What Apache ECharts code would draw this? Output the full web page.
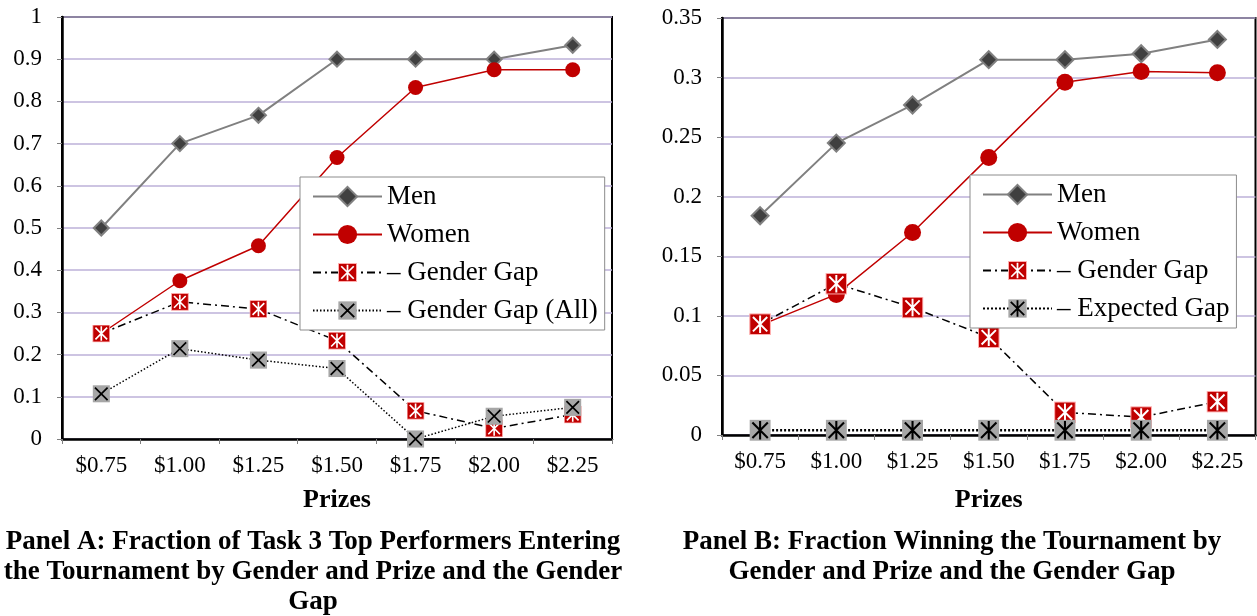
<!DOCTYPE html>
<html>
<head>
<meta charset="utf-8">
<script src="https://cdn.jsdelivr.net/npm/echarts@6/dist/echarts.min.js"></script>
<style>
html,body{margin:0;padding:0;background:#fff;}
#main{width:1257px;height:616px;}
</style>
</head>
<body>
<div id="main"></div>
<script>
// prize levels (x categories)
var prizes = ['$0.75','$1.00','$1.25','$1.50','$1.75','$2.00','$2.25'];
// Panel A: fraction of top performers entering
var menA = [0.5, 0.7, 0.767, 0.9, 0.9, 0.9, 0.933];
var womenA = [0.25, 0.375, 0.458, 0.667, 0.833, 0.875, 0.875];
var gapA = [0.25, 0.325, 0.308, 0.233, 0.067, 0.025, 0.058];
var gapAllA = [0.107, 0.214, 0.187, 0.167, 0.0, 0.054, 0.075];
// Panel B: fraction winning
var menB = [0.184, 0.245, 0.277, 0.315, 0.315, 0.320, 0.332];
var womenB = [0.092, 0.118, 0.170, 0.233, 0.296, 0.305, 0.304];
var gapB = [0.093, 0.127, 0.107, 0.082, 0.019, 0.015, 0.028];
var expGapB = [0.004, 0.004, 0.004, 0.004, 0.004, 0.004, 0.004];

var serif = '"Liberation Serif","Times New Roman",serif';

function svgSym(s){
    return 'image://data:image/svg+xml;charset=utf-8,' + encodeURIComponent(s);
}
// red square with white asterisk
var redStar = svgSym("<svg xmlns='http://www.w3.org/2000/svg' width='40' height='40' viewBox='0 0 20 20'>" +
    "<rect x='0.6' y='0.6' width='18.8' height='18.8' fill='#c00000' stroke='#ffb0b0' stroke-width='1'/>" +
    "<path d='M3.5 3.5L16.5 16.5M16.5 3.5L3.5 16.5M10 2V18' stroke='#ffffff' stroke-width='1.8' fill='none'/></svg>");
// gray square with black X
var grayX = svgSym("<svg xmlns='http://www.w3.org/2000/svg' width='40' height='40' viewBox='0 0 20 20'>" +
    "<rect x='0.5' y='0.5' width='19' height='19' fill='#a6a6a6'/>" +
    "<path d='M3 3L17 17M17 3L3 17' stroke='#000000' stroke-width='1.9' fill='none'/></svg>");
// gray square with black asterisk
var grayStar = svgSym("<svg xmlns='http://www.w3.org/2000/svg' width='40' height='40' viewBox='0 0 20 20'>" +
    "<rect x='0.5' y='0.5' width='19' height='19' fill='#a6a6a6'/>" +
    "<path d='M3 3L17 17M17 3L3 17M10 1.5V18.5' stroke='#000000' stroke-width='1.9' fill='none'/></svg>");

function xAx(idx, gap){
    return {
        type:'category', gridIndex:idx, data:prizes, boundaryGap:true,
        axisLine:{lineStyle:{color:'#000',width:2.5}},
        axisTick:{show:true,length:5,lineStyle:{color:'#808080',width:1}},
        axisLabel:{fontFamily:serif,fontSize:23,color:'#000',margin:15},
        splitLine:{show:false},
        name:'Prizes', nameLocation:'middle', nameGap:gap,
        nameTextStyle:{fontFamily:serif,fontSize:26,fontWeight:'bold',color:'#000'}
    };
}
function yAx(idx, max, step){
    return {
        type:'value', gridIndex:idx, min:0, max:max, interval:step,
        axisLine:{show:true,lineStyle:{color:'#000',width:2.5}},
        axisTick:{show:true,length:5,lineStyle:{color:'#808080',width:1}},
        axisLabel:{fontFamily:serif,fontSize:23,color:'#000',margin:20},
        splitLine:{show:true,lineStyle:{color:'#bdb1d8',width:1.5}}
    };
}
function legendFor(l, t, names){
    return {
        orient:'vertical', left:l, top:t, data:names,
        backgroundColor:'#fff', borderColor:'#8c8c8c', borderWidth:1,
        padding:[6,7,6,12], itemGap:11, itemWidth:69, itemHeight:24,
        textStyle:{fontFamily:serif,fontSize:27,color:'#000',lineHeight:26}
    };
}

var myChart = echarts.init(document.getElementById('main'));
var option = {
    backgroundColor:'#fff',
    animation:false,
    grid:[
        {left:62,right:645,top:17,bottom:177,show:true,borderColor:'#000',borderWidth:2,backgroundColor:'transparent'},
        {left:722,right:1.5,top:18,bottom:181,show:true,borderColor:'#000',borderWidth:2,backgroundColor:'transparent'}
    ],
    xAxis:[xAx(0,48), xAx(1,52)],
    yAxis:[yAx(0,1,0.1), yAx(1,0.35,0.05)],
    legend:[
        legendFor(300,177,['Men','Women','\u2013 Gender Gap','\u2013 Gender Gap (All)']),
        legendFor(970,175,['Men ','Women ','\u2013 Gender Gap ','\u2013 Expected Gap'])
    ],
    graphic:[
        {type:'text',x:313,y:527,style:{text:'Panel A: Fraction of Task 3 Top Performers Entering\nthe Tournament by Gender and Prize and the Gender\nGap',
            font:'bold 27px '+serif,textAlign:'center',lineHeight:30,fill:'#000'}},
        {type:'text',x:952,y:527,style:{text:'Panel B: Fraction Winning the Tournament by\nGender and Prize and the Gender Gap',
            font:'bold 27px '+serif,textAlign:'center',lineHeight:30,fill:'#000'}}
    ],
    series:[
        {name:'Men',type:'line',xAxisIndex:0,yAxisIndex:0,data:menA,
         symbol:'diamond',symbolSize:15,
         itemStyle:{color:'#404040',borderColor:'#808080',borderWidth:2},
         lineStyle:{color:'#808080',width:2}},
        {name:'Women',type:'line',xAxisIndex:0,yAxisIndex:0,data:womenA,
         symbol:'circle',symbolSize:15,
         itemStyle:{color:'#c00000'},lineStyle:{color:'#c00000',width:1.5}},
        {name:'\u2013 Gender Gap',type:'line',xAxisIndex:0,yAxisIndex:0,data:gapA,
         symbol:redStar,symbolSize:18,
         itemStyle:{color:'#c00000'},lineStyle:{color:'#000',width:1.5,type:[8,4,2,4]}},
        {name:'\u2013 Gender Gap (All)',type:'line',xAxisIndex:0,yAxisIndex:0,data:gapAllA,
         symbol:grayX,symbolSize:18,
         itemStyle:{color:'#a6a6a6'},lineStyle:{color:'#000',width:1.5,type:[1.5,2]}},

        {name:'Men ',type:'line',xAxisIndex:1,yAxisIndex:1,data:menB,
         symbol:'diamond',symbolSize:17,
         itemStyle:{color:'#404040',borderColor:'#808080',borderWidth:2},
         lineStyle:{color:'#808080',width:2}},
        {name:'Women ',type:'line',xAxisIndex:1,yAxisIndex:1,data:womenB,
         symbol:'circle',symbolSize:17,
         itemStyle:{color:'#c00000'},lineStyle:{color:'#c00000',width:1.5}},
        {name:'\u2013 Gender Gap ',type:'line',xAxisIndex:1,yAxisIndex:1,data:gapB,
         symbol:redStar,symbolSize:22,
         itemStyle:{color:'#c00000'},lineStyle:{color:'#000',width:1.5,type:[8,4,2,4]}},
        {name:'\u2013 Expected Gap',type:'line',xAxisIndex:1,yAxisIndex:1,data:expGapB,
         symbol:grayStar,symbolSize:22,
         itemStyle:{color:'#a6a6a6'},lineStyle:{color:'#000',width:2.5,type:[2,2]}}
    ]
};
myChart.setOption(option);
</script>
</body>
</html>
